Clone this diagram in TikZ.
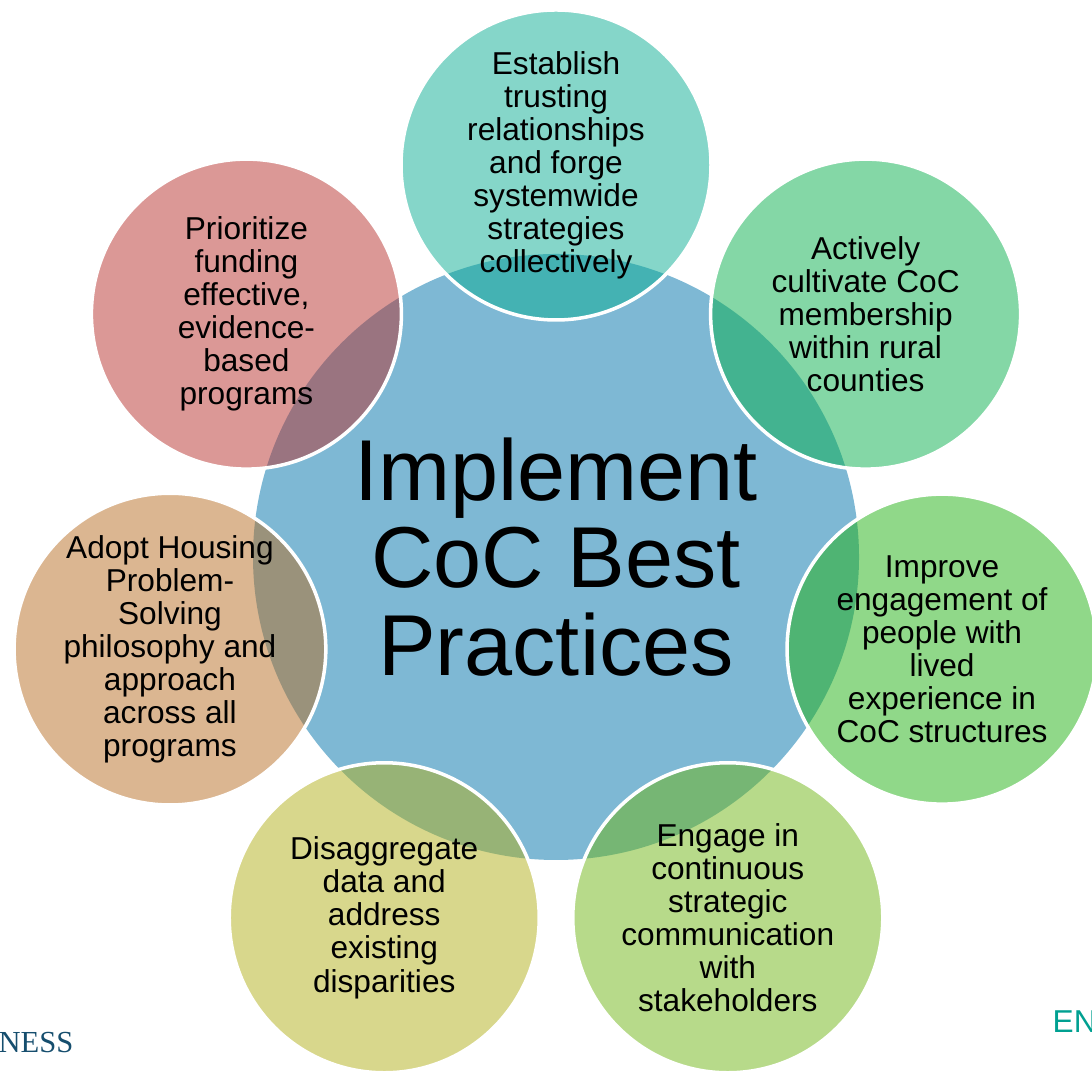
\documentclass[tikz,border=0pt]{standalone}
\usepackage{fontspec}
\setmainfont{Liberation Sans}
\newfontfamily\logofont{Liberation Serif}
\usetikzlibrary{positioning, calc}

\definecolor{hubblue}{RGB}{126,184,212}
\definecolor{petalteal}{RGB}{11,173,147}
\definecolor{petalmint}{RGB}{9,175,77}
\definecolor{petalgreen}{RGB}{33,177,19}
\definecolor{petallime}{RGB}{111,181,21}
\definecolor{petalolive}{RGB}{177,175,25}
\definecolor{petaltan}{RGB}{183,109,35}
\definecolor{petalrose}{RGB}{183,49,45}
\definecolor{logoblue}{RGB}{22,78,110}
\definecolor{logoteal}{RGB}{0,160,145}

\tikzset{
  hub/.style={circle, fill=hubblue, minimum size=6.06cm, inner sep=0pt,
    align=center, font=\fontsize{24.6}{25}\selectfont},
  petal/.style={circle, draw=white, line width=1pt, fill opacity=.5, text opacity=1,
    minimum size=3.1cm, inner sep=0pt, align=center, font=\fontsize{9}{9.4}\selectfont},
}

\begin{document}
\begin{tikzpicture}
      \clip (0,0) rectangle (10.92,10.72);
      \coordinate (ctr) at (5.56,5.11);

      \node[hub] (hub) at ($ (ctr) + (0,0.04) $) {Implement\\CoC Best\\Practices};   %center

      \node[petal, fill=petalteal]  (est)    at ($ (ctr) + (90:3.96) $)     {Establish\\trusting\\relationships\\and forge\\systemwide\\strategies\\collectively};   %top
      \node[petal, fill=petalmint]  (cult)   at ($ (ctr) + (38.57:3.96) $)  {Actively\\cultivate CoC\\membership\\within rural\\counties};
      \node[petal, fill=petalgreen] (impr)   at ($ (ctr) + (-12.86:3.96) $) {Improve\\engagement of\\people with\\lived\\experience in\\CoC structures};
      \node[petal, fill=petallime]  (engg)   at ($ (ctr) + (-64.29:3.96) $) {Engage in\\continuous\\strategic\\communication\\with\\stakeholders};
      \node[petal, fill=petalolive] (disagg) at ($ (ctr) + (-115.71:3.96) $) {Disaggregate\\data and\\address\\existing\\disparities};
      \node[petal, fill=petaltan]   (adopt)  at ($ (ctr) + (-167.14:3.96) $) {Adopt Housing\\Problem-\\Solving\\philosophy and\\approach\\across all\\programs};
      \node[petal, fill=petalrose]  (prio)   at ($ (ctr) + (141.43:3.96) $) {Prioritize\\funding\\effective,\\evidence-\\based\\programs};

      % logo bits at the edges
      \node[anchor=base east, inner sep=0pt, text=logoblue, font=\logofont\fontsize{8.7}{10}\selectfont] (lnss) at (0.74,0.19) {NESS};
      \node[anchor=base west, inner sep=0pt, text=logoteal, font=\fontsize{9}{10}\selectfont] (len) at (10.52,0.39) {EN};
\end{tikzpicture}
\end{document}
